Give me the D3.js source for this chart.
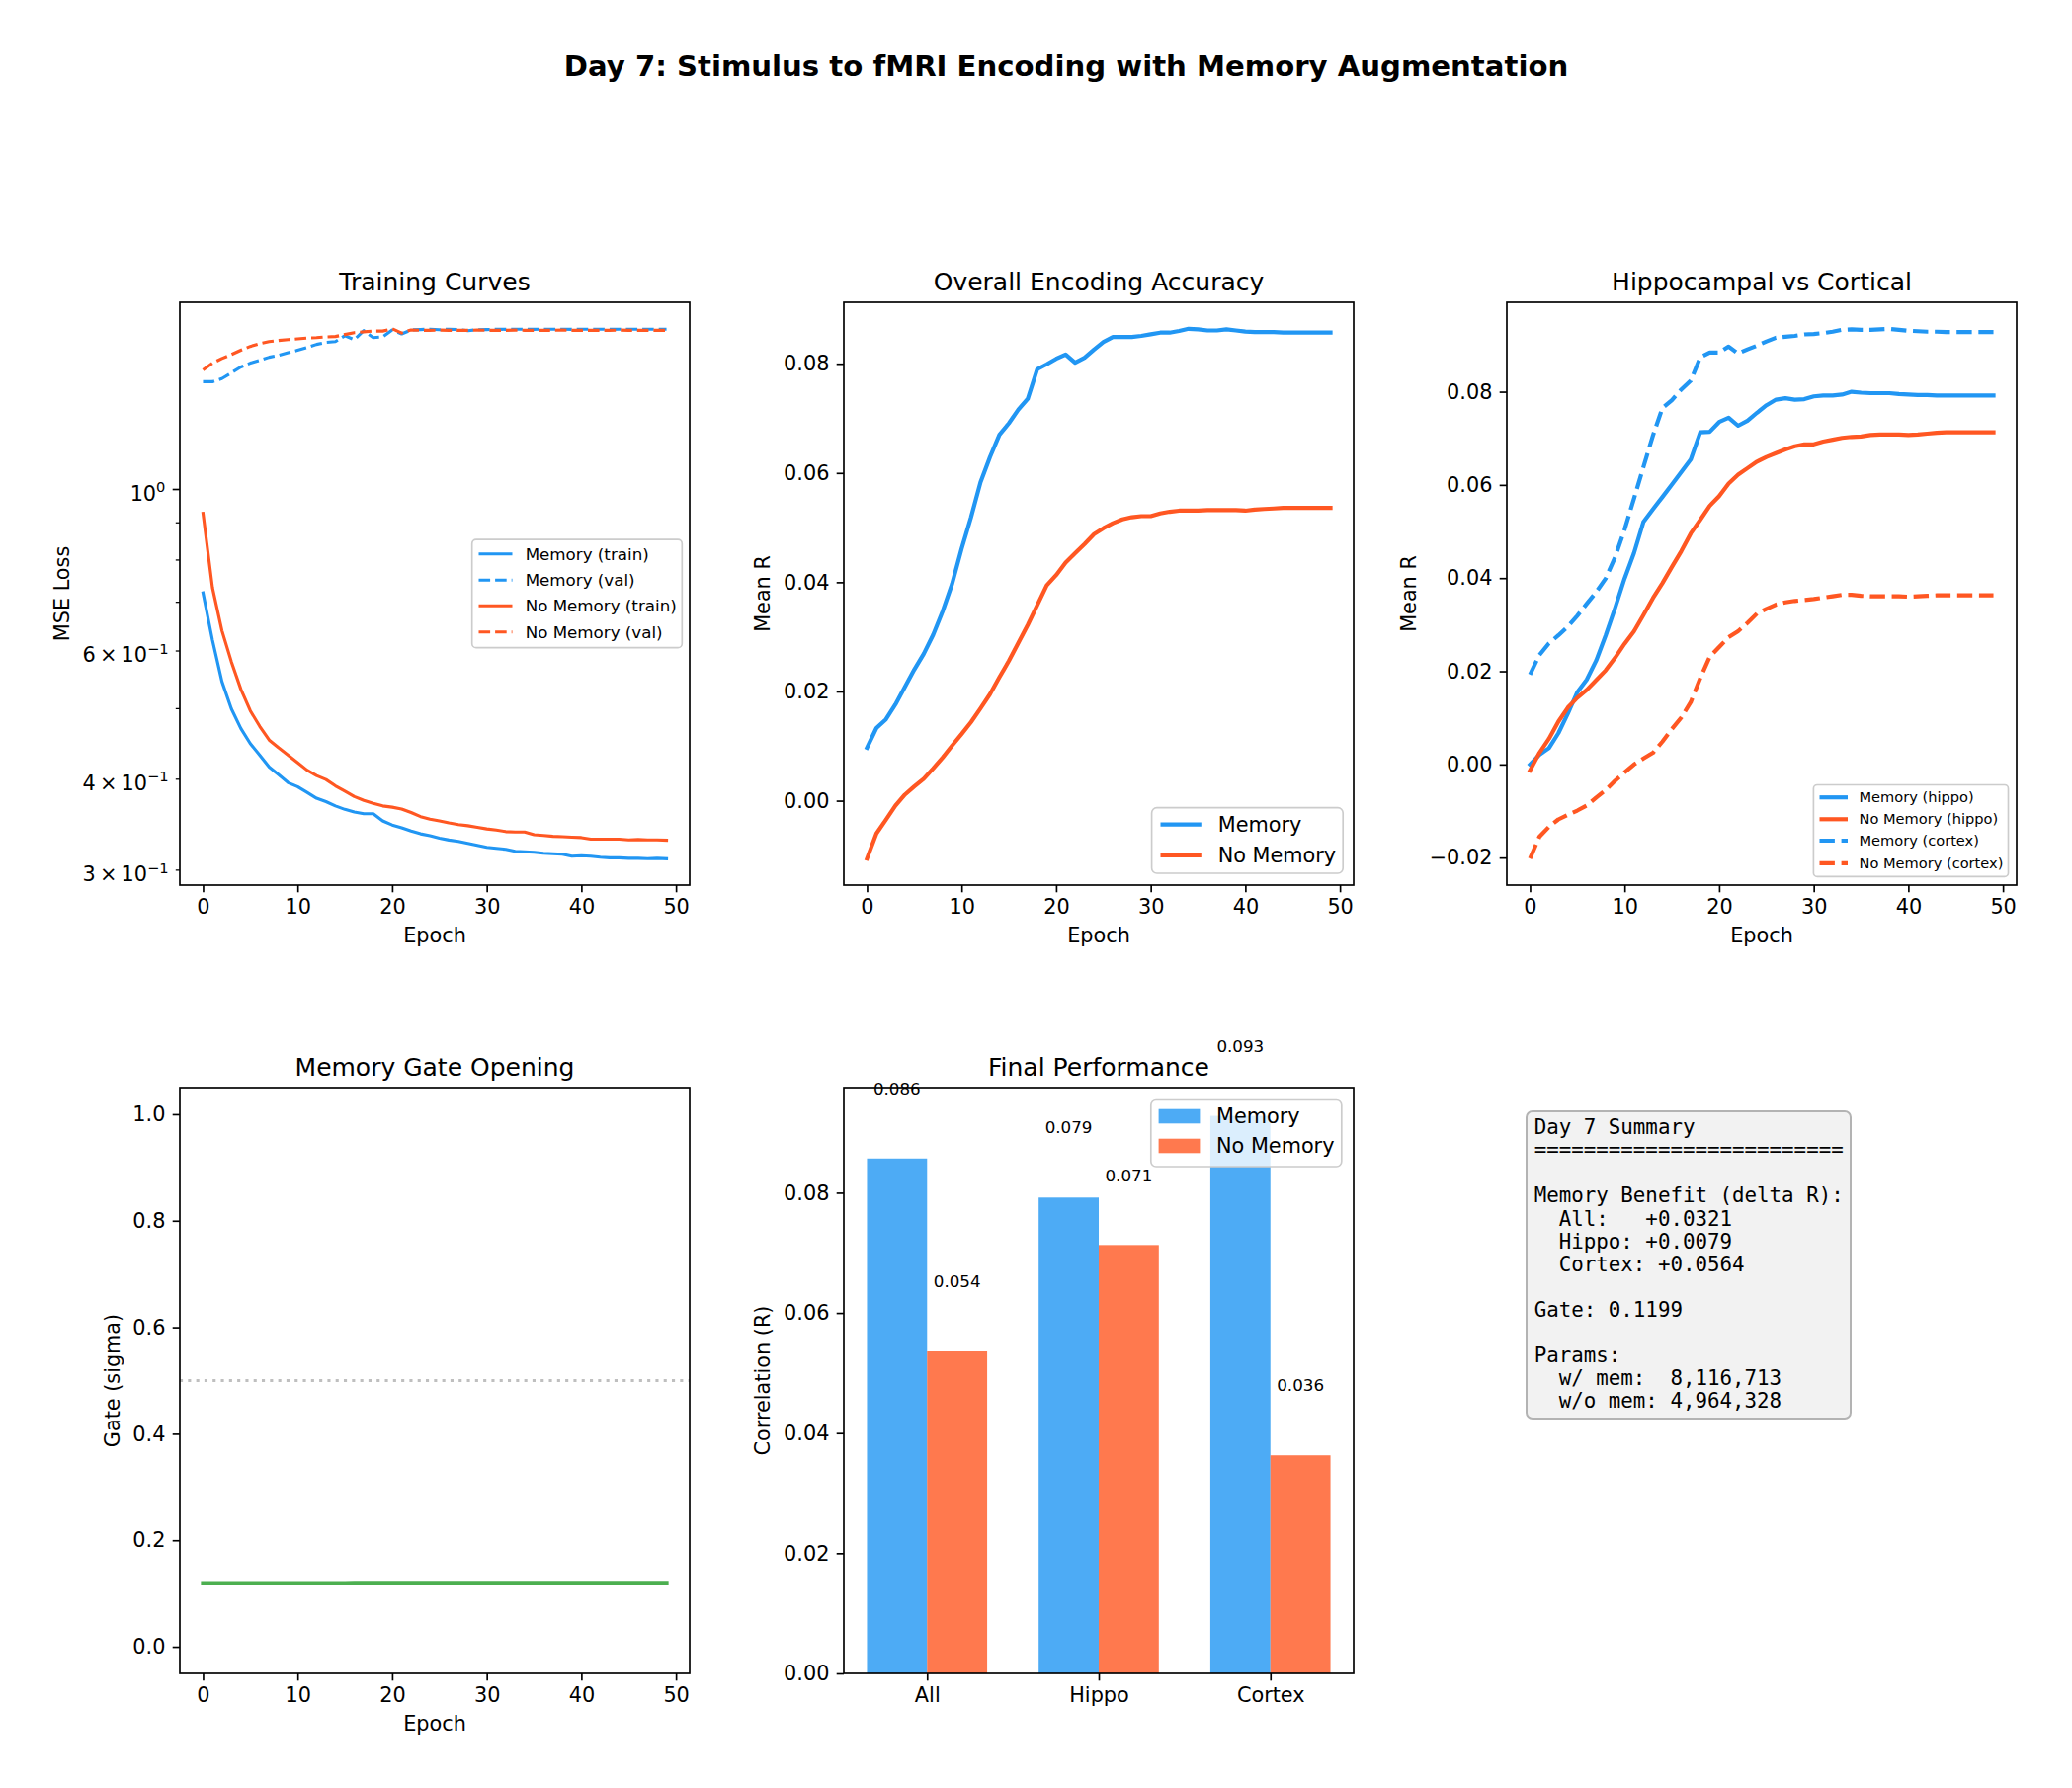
<!DOCTYPE html>
<html>
<head>
<meta charset="utf-8">
<script src="https://cdn.jsdelivr.net/npm/d3@7"></script>
<style>
body { margin: 0; background: #fff; }
svg text { font-family: "DejaVu Sans", sans-serif; fill: #000; }
svg text.mono { font-family: "DejaVu Sans Mono", monospace; white-space: pre; }
</style>
</head>
<body>
<div id="chart"></div>
<script>
// ---- data ----
var memTrainLoss = [0.720,0.620,0.544,0.499,0.469,0.447,0.431,0.415,0.405,0.395,
  0.390,0.383,0.376,0.372,0.367,0.363,0.360,0.358,0.358,0.350,
  0.3455,0.3425,0.339,0.336,0.334,0.3315,0.3295,0.328,0.326,0.324,
  0.322,0.321,0.320,0.318,0.3175,0.317,0.316,0.3155,0.315,0.313,
  0.3135,0.313,0.312,0.3114,0.3114,0.311,0.311,0.3106,0.311,0.3106];
var memValLoss = [1.404,1.404,1.418,1.444,1.471,1.489,1.502,1.517,1.526,1.539,
  1.551,1.564,1.580,1.590,1.594,1.624,1.604,1.650,1.614,1.618,
  1.654,1.633,1.654,1.656,1.658,1.655,1.658,1.656,1.650,1.655,
  1.656,1.658,1.657,1.658,1.658,1.657,1.658,1.658,1.658,1.657,
  1.658,1.658,1.658,1.657,1.658,1.658,1.658,1.658,1.658,1.658];
var noMemTrainLoss = [0.926,0.732,0.639,0.579,0.531,0.496,0.472,0.452,0.441,0.431,
  0.421,0.411,0.404,0.399,0.391,0.3845,0.378,0.3735,0.370,0.367,
  0.3655,0.3635,0.3595,0.3548,0.352,0.350,0.3478,0.346,0.3447,0.343,
  0.3413,0.340,0.3384,0.338,0.338,0.335,0.3342,0.3334,0.333,0.3325,
  0.332,0.3304,0.3304,0.3304,0.3304,0.3296,0.330,0.3296,0.3296,0.3293];
var noMemValLoss = [1.457,1.489,1.511,1.530,1.551,1.570,1.584,1.594,1.600,1.604,
  1.608,1.612,1.614,1.618,1.620,1.630,1.640,1.644,1.648,1.648,
  1.660,1.638,1.654,1.652,1.652,1.653,1.652,1.652,1.652,1.653,
  1.652,1.652,1.652,1.653,1.652,1.652,1.652,1.652,1.653,1.652,
  1.652,1.652,1.652,1.652,1.653,1.652,1.652,1.652,1.652,1.652];

var memR = [0.0097,0.0133,0.0149,0.0176,0.0208,0.0240,0.0269,0.0304,0.0347,0.0397,
  0.0461,0.0519,0.0583,0.0629,0.0670,0.0691,0.0716,0.0736,0.0790,0.0799,
  0.0809,0.0817,0.0802,0.0811,0.0826,0.0840,0.0849,0.0849,0.0849,0.0851,
  0.0854,0.0857,0.0857,0.0860,0.0864,0.0863,0.0861,0.0861,0.0863,0.0861,
  0.0859,0.0858,0.0858,0.0858,0.0857,0.0857,0.0857,0.0857,0.0857,0.0857];
var noMemR = [-0.0106,-0.0060,-0.0035,-0.0009,0.0011,0.0026,0.0040,0.0059,0.0079,0.0101,
  0.0122,0.0144,0.0169,0.0195,0.0226,0.0256,0.0289,0.0322,0.0358,0.0394,
  0.0413,0.0436,0.0453,0.0470,0.0488,0.0499,0.0508,0.0515,0.0519,0.0521,
  0.0521,0.0526,0.0529,0.0531,0.0531,0.0531,0.0532,0.0532,0.0532,0.0532,
  0.0531,0.0533,0.0534,0.0535,0.0536,0.0536,0.0536,0.0536,0.0536,0.0536];

var memHippo = [0.0000,0.0021,0.0035,0.0067,0.0109,0.0155,0.0182,0.0223,0.0277,0.0336,
  0.0399,0.0454,0.0521,0.0548,0.0574,0.0601,0.0628,0.0655,0.0713,0.0714,
  0.0735,0.0744,0.0727,0.0738,0.0755,0.0771,0.0783,0.0786,0.0783,0.0784,
  0.0790,0.0792,0.0792,0.0794,0.0800,0.0798,0.0797,0.0797,0.0797,0.0795,
  0.0794,0.0793,0.0793,0.0792,0.0792,0.0792,0.0792,0.0792,0.0792,0.0792];
var noMemHippo = [-0.0013,0.0025,0.0055,0.0092,0.0122,0.0143,0.0160,0.0181,0.0202,0.0229,
  0.0259,0.0286,0.0321,0.0357,0.0389,0.0424,0.0458,0.0496,0.0525,0.0555,
  0.0576,0.0603,0.0622,0.0636,0.0650,0.0660,0.0668,0.0676,0.0683,0.0687,
  0.0687,0.0693,0.0697,0.0701,0.0703,0.0704,0.0707,0.0708,0.0708,0.0708,
  0.0707,0.0708,0.0710,0.0712,0.0713,0.0713,0.0713,0.0713,0.0713,0.0713];
var memCortex = [0.0193,0.0235,0.0260,0.0277,0.0296,0.0319,0.0345,0.0370,0.0399,0.0445,
  0.0504,0.0571,0.0639,0.0706,0.0765,0.0782,0.0805,0.0824,0.0874,0.0884,
  0.0884,0.0897,0.0882,0.0891,0.0899,0.0908,0.0916,0.0918,0.0920,0.0923,
  0.0924,0.0926,0.0929,0.0933,0.0934,0.0933,0.0933,0.0934,0.0935,0.0933,
  0.0931,0.0930,0.0929,0.0929,0.0928,0.0928,0.0928,0.0928,0.0928,0.0928];
var noMemCortex = [-0.0202,-0.0155,-0.0134,-0.0118,-0.0108,-0.0099,-0.0088,-0.0071,-0.0055,-0.0035,
  -0.0017,0.0000,0.0013,0.0025,0.0049,0.0076,0.0101,0.0134,0.0185,0.0231,
  0.0252,0.0273,0.0286,0.0304,0.0324,0.0334,0.0343,0.0348,0.0351,0.0353,
  0.0355,0.0358,0.0361,0.0364,0.0364,0.0362,0.0361,0.0361,0.0361,0.0361,
  0.0360,0.0361,0.0362,0.0363,0.0363,0.0363,0.0363,0.0363,0.0363,0.0363];

var gateValues = [0.1196,0.1196,0.1197,0.1197,0.1197,0.1197,0.1198,0.1198,0.1198,0.1198,
  0.1198,0.1198,0.1198,0.1198,0.1198,0.1198,0.1199,0.1199,0.1199,0.1199,
  0.1199,0.1199,0.1199,0.1199,0.1199,0.1199,0.1199,0.1199,0.1199,0.1199,
  0.1199,0.1199,0.1199,0.1199,0.1199,0.1199,0.1199,0.1199,0.1199,0.1199,
  0.1199,0.1199,0.1199,0.1199,0.1199,0.1199,0.1199,0.1199,0.1199,0.1199];

var regions = ["All", "Hippo", "Cortex"];
var finalMemory = [0.0857, 0.0792, 0.0928];
var finalNoMemory = [0.0536, 0.0713, 0.0363];

var epochTicks = [0, 10, 20, 30, 40, 50];
var lossMajorTicks = [1.0];
var lossMinorTicks = [0.3, 0.4, 0.5, 0.6, 0.7, 0.8, 0.9];
var lossTickLabels = [
  {v: 1.0, base: "10", exp: "0"},
  {v: 0.6, base: "6\u2009\u00d7\u200910", exp: "\u22121"},
  {v: 0.4, base: "4\u2009\u00d7\u200910", exp: "\u22121"},
  {v: 0.3, base: "3\u2009\u00d7\u200910", exp: "\u22121"}
];
var rTicks = [0, 0.02, 0.04, 0.06, 0.08];
var hvcTicks = [-0.02, 0, 0.02, 0.04, 0.06, 0.08];
var gateTicks = [0, 0.2, 0.4, 0.6, 0.8, 1.0];

var summaryLines = [
  "Day 7 Summary",
  "=========================",
  "",
  "Memory Benefit (delta R):",
  "  All:   +0.0321",
  "  Hippo: +0.0079",
  "  Cortex: +0.0564",
  "",
  "Gate: 0.1199",
  "",
  "Params:",
  "  w/ mem:  8,116,713",
  "  w/o mem: 4,964,328"
];

// ---- style ----
var BLUE = "#2196F3", ORANGE = "#FF5722", GREEN = "#4CAF50";
var FS = 20.8, FS_TITLE = 25, FS_SMALL = 16.7, FS_TINY = 14.6;
var LW15 = 3.125, LW2 = 4.17, SPINE = 1.67;
var DASH15 = "11.6,5", DASH2 = "15.4,6.7";

var W = 2097, H = 1810;
var svg = d3.select("#chart").append("svg")
  .attr("width", W).attr("height", H)
  .attr("font-family", "DejaVu Sans");
svg.append("rect").attr("width", W).attr("height", H).attr("fill", "#fff");

svg.append("text")
  .attr("x", 1079).attr("y", 77)
  .attr("text-anchor", "middle")
  .attr("font-size", 29.17).attr("font-weight", "bold")
  .text("Day 7: Stimulus to fMRI Encoding with Memory Augmentation");

function makePanel(box, title) {
  var g = svg.append("g").attr("transform", "translate(" + box.x + "," + box.y + ")");
  g.append("text")
    .attr("x", box.w / 2).attr("y", -12.5)
    .attr("text-anchor", "middle").attr("font-size", FS_TITLE)
    .text(title);
  return g;
}

function styleAxis(sel, width) {
  sel.attr("font-size", FS).attr("font-family", "DejaVu Sans");
  sel.select(".domain").remove();
  sel.selectAll(".tick line").attr("stroke", "#000").attr("stroke-width", width || SPINE);
  sel.selectAll(".tick text").attr("fill", "#000");
}

function xAxis(g, box, scale, ticks, fmt) {
  var ax = g.append("g").attr("transform", "translate(0," + box.h + ")")
    .call(d3.axisBottom(scale).tickValues(ticks).tickFormat(fmt)
      .tickSize(7.3).tickPadding(7.3).tickSizeOuter(0));
  styleAxis(ax);
}

function yAxis(g, scale, ticks, fmt) {
  var ax = g.append("g")
    .call(d3.axisLeft(scale).tickValues(ticks).tickFormat(fmt)
      .tickSize(7.3).tickPadding(7.3).tickSizeOuter(0));
  styleAxis(ax);
}

function yLabel(g, box, absX, label) {
  var cx = absX - box.x, cy = box.h / 2;
  g.append("text")
    .attr("transform", "translate(" + cx + "," + cy + ") rotate(-90)")
    .attr("text-anchor", "middle").attr("dy", "0.35em")
    .attr("font-size", FS).text(label);
}

function xLabel(g, box, label) {
  g.append("text")
    .attr("x", box.w / 2).attr("y", box.h + 58)
    .attr("text-anchor", "middle").attr("font-size", FS).text(label);
}

function frame(g, box) {
  g.append("rect").attr("width", box.w).attr("height", box.h)
    .attr("fill", "none").attr("stroke", "#000").attr("stroke-width", SPINE);
}

function drawSeries(g, x, y, values, color, width, dash) {
  var line = d3.line()
    .x(function(d, i) { return x(i); })
    .y(function(d) { return y(d); });
  g.append("path")
    .attr("d", line(values))
    .attr("fill", "none")
    .attr("stroke", color)
    .attr("stroke-width", width)
    .attr("stroke-linejoin", "round")
    .attr("stroke-linecap", dash ? "butt" : "square")
    .attr("stroke-dasharray", dash || null);
}

function drawLegend(L) {
  var g = svg.append("g");
  g.append("rect")
    .attr("x", L.x).attr("y", L.y).attr("width", L.w).attr("height", L.h)
    .attr("rx", L.fs * 0.25).attr("fill", "#fff").attr("fill-opacity", 0.8)
    .attr("stroke", "#cccccc").attr("stroke-width", SPINE);
  L.items.forEach(function(it, i) {
    var cy = L.rows[i];
    if (it.patch) {
      g.append("rect")
        .attr("x", L.hx0).attr("y", cy - L.patchH / 2)
        .attr("width", L.hx1 - L.hx0).attr("height", L.patchH)
        .attr("fill", it.color).attr("fill-opacity", 0.8);
    } else {
      g.append("line")
        .attr("x1", L.hx0).attr("x2", L.hx1).attr("y1", cy).attr("y2", cy)
        .attr("stroke", it.color).attr("stroke-width", it.width)
        .attr("stroke-dasharray", it.dash || null);
    }
    g.append("text")
      .attr("x", L.tx).attr("y", cy).attr("dy", "0.35em")
      .attr("font-size", L.fs).text(it.label);
  });
}

var xEpochDomain = [-2.45, 51.45];
var f2 = d3.format(".2f");
var fmtMinus = function(d) { return f2(d).replace("-", "\u2212"); };

// ---- Panel 1: Training Curves ----
(function() {
  var box = {x: 182, y: 306, w: 516, h: 590};
  var g = makePanel(box, "Training Curves");
  var x = d3.scaleLinear().domain(xEpochDomain).range([0, box.w]);
  var y = d3.scaleLog().domain([0.2857, 1.805]).range([box.h, 0]);

  drawSeries(g, x, y, memTrainLoss, BLUE, LW15);
  drawSeries(g, x, y, memValLoss, BLUE, LW15, DASH15);
  drawSeries(g, x, y, noMemTrainLoss, ORANGE, LW15);
  drawSeries(g, x, y, noMemValLoss, ORANGE, LW15, DASH15);

  xAxis(g, box, x, epochTicks, d3.format("d"));
  var major = g.append("g")
    .call(d3.axisLeft(y).tickValues(lossMajorTicks).tickFormat("").tickSize(7.3).tickSizeOuter(0));
  styleAxis(major);
  var minor = g.append("g")
    .call(d3.axisLeft(y).tickValues(lossMinorTicks).tickFormat("").tickSize(4.2).tickSizeOuter(0));
  styleAxis(minor, 1.25);

  lossTickLabels.forEach(function(t) {
    var off = lossMajorTicks.indexOf(t.v) >= 0 ? 14.6 : 11.5;
    var txt = g.append("text")
      .attr("x", -off).attr("y", y(t.v) + 11.5)
      .attr("text-anchor", "end").attr("font-size", FS);
    txt.append("tspan").text(t.base);
    txt.append("tspan").attr("dy", -8.3).attr("font-size", FS_TINY).text(t.exp);
  });

  yLabel(g, box, 62.7, "MSE Loss");
  xLabel(g, box, "Epoch");
  frame(g, box);

  drawLegend({
    x: 477.7, y: 546.1, w: 212.6, h: 109.5, fs: FS_SMALL,
    rows: [560.7, 587.2, 613.3, 639.8], hx0: 484.5, hx1: 518.5, tx: 531.7,
    items: [
      {label: "Memory (train)", color: BLUE, width: LW15},
      {label: "Memory (val)", color: BLUE, width: LW15, dash: DASH15},
      {label: "No Memory (train)", color: ORANGE, width: LW15},
      {label: "No Memory (val)", color: ORANGE, width: LW15, dash: DASH15}
    ]
  });
})();

// ---- Panel 2: Overall Encoding Accuracy ----
(function() {
  var box = {x: 854, y: 306, w: 516, h: 590};
  var g = makePanel(box, "Overall Encoding Accuracy");
  var x = d3.scaleLinear().domain(xEpochDomain).range([0, box.w]);
  var y = d3.scaleLinear().domain([-0.01545, 0.09125]).range([box.h, 0]);

  drawSeries(g, x, y, memR, BLUE, LW2);
  drawSeries(g, x, y, noMemR, ORANGE, LW2);

  xAxis(g, box, x, epochTicks, d3.format("d"));
  yAxis(g, y, rTicks, fmtMinus);
  yLabel(g, box, 772, "Mean R");
  xLabel(g, box, "Epoch");
  frame(g, box);

  drawLegend({
    x: 1165.6, y: 817.7, w: 193.6, h: 66.3, fs: FS,
    rows: [834.7, 866], hx0: 1174.5, hx1: 1215.8, tx: 1232.7,
    items: [
      {label: "Memory", color: BLUE, width: LW2},
      {label: "No Memory", color: ORANGE, width: LW2}
    ]
  });
})();

// ---- Panel 3: Hippocampal vs Cortical ----
(function() {
  var box = {x: 1525, y: 306, w: 516, h: 590};
  var g = makePanel(box, "Hippocampal vs Cortical");
  var x = d3.scaleLinear().domain(xEpochDomain).range([0, box.w]);
  var y = d3.scaleLinear().domain([-0.0259, 0.0992]).range([box.h, 0]);

  drawSeries(g, x, y, memHippo, BLUE, LW2);
  drawSeries(g, x, y, noMemHippo, ORANGE, LW2);
  drawSeries(g, x, y, memCortex, BLUE, LW2, DASH2);
  drawSeries(g, x, y, noMemCortex, ORANGE, LW2, DASH2);

  xAxis(g, box, x, epochTicks, d3.format("d"));
  yAxis(g, y, hvcTicks, fmtMinus);
  yLabel(g, box, 1426, "Mean R");
  xLabel(g, box, "Epoch");
  frame(g, box);

  drawLegend({
    x: 1835.4, y: 794.5, w: 197.1, h: 92.8, fs: FS_TINY,
    rows: [807.2, 829.3, 851, 873.9], hx0: 1841.5, hx1: 1870, tx: 1881.5,
    items: [
      {label: "Memory (hippo)", color: BLUE, width: LW2},
      {label: "No Memory (hippo)", color: ORANGE, width: LW2},
      {label: "Memory (cortex)", color: BLUE, width: LW2, dash: DASH2},
      {label: "No Memory (cortex)", color: ORANGE, width: LW2, dash: DASH2}
    ]
  });
})();

// ---- Panel 4: Memory Gate Opening ----
(function() {
  var box = {x: 182, y: 1101, w: 516, h: 593};
  var g = makePanel(box, "Memory Gate Opening");
  var x = d3.scaleLinear().domain(xEpochDomain).range([0, box.w]);
  var y = d3.scaleLinear().domain([-0.05, 1.05]).range([box.h, 0]);

  g.append("line")
    .attr("x1", 0).attr("x2", box.w).attr("y1", y(0.5)).attr("y2", y(0.5))
    .attr("stroke", "#808080").attr("stroke-opacity", 0.5)
    .attr("stroke-width", LW15).attr("stroke-dasharray", "3.1,5.2");
  drawSeries(g, x, y, gateValues, GREEN, LW2);

  xAxis(g, box, x, epochTicks, d3.format("d"));
  yAxis(g, y, gateTicks, d3.format(".1f"));
  yLabel(g, box, 113.3, "Gate (sigma)");
  xLabel(g, box, "Epoch");
  frame(g, box);
})();

// ---- Panel 5: Final Performance ----
(function() {
  var box = {x: 854, y: 1101, w: 516, h: 593};
  var g = makePanel(box, "Final Performance");
  var barW = 0.35;
  var x = d3.scaleLinear().domain([-0.485, 2.485]).range([0, box.w]);
  var y = d3.scaleLinear().domain([0, 0.0975]).range([box.h, 0]);

  var series = [
    {vals: finalMemory, color: BLUE, off: -barW},
    {vals: finalNoMemory, color: ORANGE, off: 0}
  ];
  series.forEach(function(s) {
    g.selectAll(null).data(s.vals).enter().append("rect")
      .attr("x", function(d, i) { return x(i + s.off); })
      .attr("width", function(d, i) { return x(i + s.off + barW) - x(i + s.off); })
      .attr("y", function(d) { return y(d); })
      .attr("height", function(d) { return y(0) - y(d); })
      .attr("fill", s.color).attr("fill-opacity", 0.8);
  });

  xAxis(g, box, x, [0, 1, 2], function(d) { return regions[d]; });
  yAxis(g, y, rTicks, f2);
  yLabel(g, box, 772, "Correlation (R)");
  frame(g, box);

  series.forEach(function(s) {
    g.selectAll(null).data(s.vals).enter().append("text")
      .attr("x", function(d, i) { return x(i + s.off + barW / 2); })
      .attr("y", function(d) { return y(d + 0.01) - 4; })
      .attr("text-anchor", "middle").attr("font-size", FS_SMALL)
      .text(function(d) { return d.toFixed(3); });
  });

  drawLegend({
    x: 1164.8, y: 1113.5, w: 193, h: 67.5, fs: FS, patchH: 14.6,
    rows: [1130, 1160], hx0: 1172.6, hx1: 1214.4, tx: 1231,
    items: [
      {label: "Memory", color: BLUE, patch: true},
      {label: "No Memory", color: ORANGE, patch: true}
    ]
  });
})();

// ---- Panel 6: summary text ----
(function() {
  var g = svg.append("g");
  g.append("rect")
    .attr("x", 1545).attr("y", 1125).attr("width", 328).attr("height", 311)
    .attr("rx", 6).attr("fill", "#f2f2f2")
    .attr("stroke", "#b3b3b3").attr("stroke-width", 2);
  var t = g.append("text")
    .attr("class", "mono")
    .attr("font-size", FS);
  summaryLines.forEach(function(line, i) {
    t.append("tspan")
      .attr("x", 1552.7).attr("y", 1148.3 + i * 23.06)
      .text(line.length ? line : " ");
  });
})();
</script>
</body>
</html>
